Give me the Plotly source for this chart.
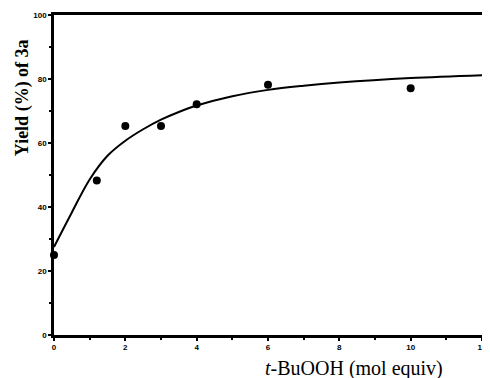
import plotly.graph_objects as go

# measured data points
equiv = [0, 1.2, 2, 3, 4, 6, 10]
yield_pct = [25, 48.3, 65.3, 65.3, 72.1, 78.2, 77.1]

# fitted curve
curve_x = [0, 0.5, 1, 1.5, 2, 2.5, 3, 3.5, 4, 5, 6, 7, 8, 10, 12]
curve_y = [27.5, 38.3, 48.6, 56.0, 60.7, 64.3, 67.3, 69.7, 71.7, 74.6, 76.6, 77.9, 78.9, 80.3, 81.2]

x_ticks = [0, 2, 4, 6, 8, 10, 12]
y_ticks = [0, 20, 40, 60, 80, 100]

fig = go.Figure()
fig.add_trace(go.Scatter(x=curve_x, y=curve_y, mode="lines",
                         line=dict(color="black", width=2, shape="spline", smoothing=1.0),
                         hoverinfo="skip", cliponaxis=False))
fig.add_trace(go.Scatter(x=equiv, y=yield_pct, mode="markers",
                         marker=dict(color="black", size=8), cliponaxis=False))

tickfont = dict(family="Liberation Sans", size=8, color="black", weight="bold")
fig.update_xaxes(range=[0, 12], tickvals=x_ticks, ticktext=[str(v) for v in x_ticks],
                 showgrid=False, zeroline=False, showline=True, linecolor="black",
                 linewidth=2.5, mirror=True, ticks="outside", ticklen=3, tickwidth=2,
                 tickcolor="black", tickfont=tickfont,
                 minor=dict(dtick=1, ticks="outside", ticklen=2, tickwidth=2, tickcolor="black"))
fig.update_yaxes(range=[0, 100], tickvals=y_ticks, ticktext=[str(v) for v in y_ticks],
                 showgrid=False, zeroline=False, showline=True, linecolor="black",
                 linewidth=2.5, mirror=True, ticks="outside", ticklen=3, tickwidth=2,
                 tickcolor="black", tickfont=tickfont,
                 minor=dict(dtick=10, ticks="outside", ticklen=2, tickwidth=2, tickcolor="black"))

fig.add_annotation(text="Yield (%) of 3a", xref="paper", yref="paper", x=0, y=0.74,
                   xshift=-32, xanchor="center", yanchor="middle", textangle=-90,
                   showarrow=False,
                   font=dict(family="Liberation Serif", size=18, color="black", weight="bold"))
fig.add_annotation(text="<i>t</i>-BuOOH (mol equiv)", xref="paper", yref="paper", x=0.70, y=0,
                   yshift=-33, xanchor="center", yanchor="middle", showarrow=False,
                   font=dict(family="Liberation Serif", size=20, color="black"))

# page body has an 8px default margin, so the figure is sized to fit the 490x378 window
fig.update_layout(width=482, height=370, margin=dict(l=46, r=3, t=7, b=43),
                  plot_bgcolor="white", paper_bgcolor="white", showlegend=False)
fig.write_html("out.html")
